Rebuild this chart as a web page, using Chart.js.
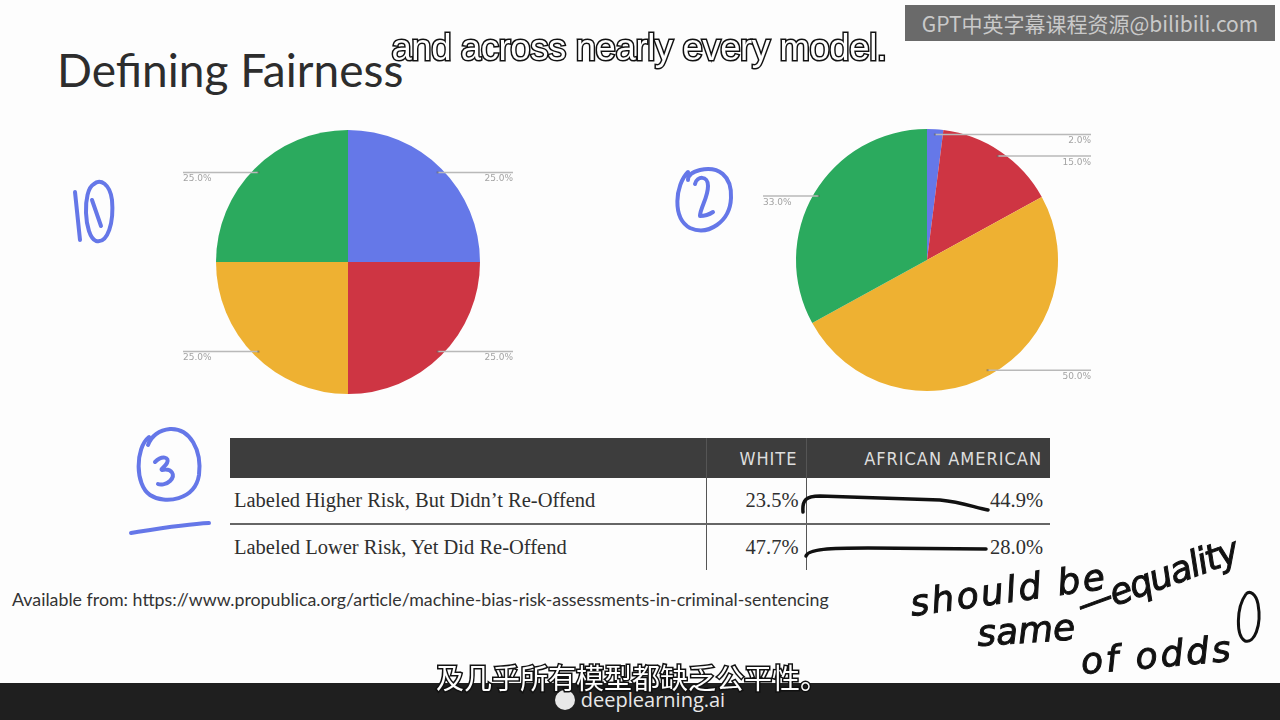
<!DOCTYPE html>
<html>
<head>
<meta charset="utf-8">
<script src="https://cdn.jsdelivr.net/npm/chart.js@4/dist/chart.umd.min.js"></script>
<style>
  html,body{margin:0;padding:0;}
  body{width:1280px;height:720px;position:relative;overflow:hidden;background:#fdfdfd;font-family:Lato,"Open Sans",sans-serif;}
  .abs{position:absolute;}
  #title{left:57px;top:42px;font-family:Lato,sans-serif;font-size:46px;color:#2d2d2d;line-height:56px;white-space:nowrap;}
  #sub1{left:0;width:1278px;top:27px;text-align:center;font-family:"Liberation Sans",Arial,sans-serif;font-size:36.5px;color:#fff;
        -webkit-text-stroke:3px #111;paint-order:stroke fill;white-space:nowrap;letter-spacing:-0.4px;}
  #wm{left:905px;top:5px;width:370px;height:36px;background:#6a6a6a;color:#c9c9c9;font-family:"Noto Sans CJK SC",sans-serif;font-size:21px;line-height:36px;text-align:center;white-space:nowrap;overflow:hidden;}
  canvas{position:absolute;}
  #tbl{left:230px;top:438px;width:820px;border-collapse:collapse;table-layout:fixed;}
  #tbl td,#tbl th{padding:0;}
  #tbl th{background:#3d3d3d;height:40px;color:#dedede;font-family:"Liberation Sans Narrow","DejaVu Sans Condensed",sans-serif;font-weight:normal;font-size:18px;letter-spacing:1px;text-align:right;padding-right:8px;}
  #tbl td{font-family:"Liberation Serif","DejaVu Serif",serif;font-size:20.5px;color:#2f2f2f;height:45px;}
  #tbl td.lab{padding-left:4px;text-align:left;}
  #tbl td.num{text-align:right;padding-right:7px;}
  #tbl .c2{border-left:1px solid #555;}
  #tbl .c3{border-left:1px solid #555;}
  #tbl tr.r1 td{border-bottom:2px solid #666;}
  #src{left:12px;top:588px;font-family:Lato,sans-serif;font-size:17.8px;color:#333;white-space:nowrap;}
  #bar{left:0;top:683px;width:1280px;height:37px;background:#1f1f1f;}
  #brand{left:0;width:1280px;top:686px;text-align:center;color:#e8e8e8;font-family:"Open Sans",sans-serif;font-size:20px;white-space:nowrap;}
  #brand span.logo{display:inline-block;width:20px;height:20px;border-radius:50%;background:#e8e8e8;vertical-align:-3px;margin-right:6px;}
  #sub2{left:0;width:1264px;top:657px;text-align:center;font-family:"Noto Sans CJK SC",sans-serif;font-size:28px;color:#fff;
        -webkit-text-stroke:3px #111;paint-order:stroke fill;white-space:nowrap;line-height:40px;}
  #ink{left:0;top:0;}
</style>
</head>
<body>
<div id="title" class="abs">Defining Fairness</div>
<div id="wm" class="abs">GPT中英字幕课程资源@bilibili.com</div>

<canvas id="pie1" width="360" height="300" style="left:170px;top:112px;width:360px;height:300px;"></canvas>
<canvas id="pie2" width="360" height="300" style="left:750px;top:110px;width:360px;height:300px;"></canvas>

<table id="tbl" class="abs">
  <colgroup><col style="width:476px"><col style="width:100px"><col style="width:244px"></colgroup>
  <tr><th class="c1"></th><th class="c2" id="h1"></th><th class="c3" id="h2"></th></tr>
  <tr class="r1"><td class="lab c1" id="l0"></td><td class="num c2" id="w0"></td><td class="num c3" id="a0"></td></tr>
  <tr class="r2"><td class="lab c1" id="l1"></td><td class="num c2" id="w1"></td><td class="num c3" id="a1"></td></tr>
</table>

<div id="src" class="abs">Available from: https://www.propublica.org/article/machine-bias-risk-assessments-in-criminal-sentencing</div>

<div id="bar" class="abs"></div>
<div id="brand" class="abs"><span class="logo"></span>deeplearning.ai</div>

<svg id="ink" class="abs" width="1280" height="720" viewBox="0 0 1280 720">
  <g fill="none" stroke="#6577e8" stroke-width="4" stroke-linecap="round" stroke-linejoin="round">
    <!-- circled 1 -->
    <path d="M75 192 L80 240"/>
    <path d="M94 184 C82 190 84 236 96 241 C108 244 114 222 112 200 C110 184 100 178 94 184"/>
    <path d="M92 200 L101 226"/>
    <!-- circled 2 -->
    <path d="M688 172 C675 185 672 218 690 228 C708 236 730 222 731 198 C732 175 718 166 700 170 C692 172 688 176 688 180"/>
    <path d="M695 184 C697 176 708 175 708 186 C708 198 700 208 700 216 C704 216 710 214 713 212"/>
    <!-- circled 3 -->
    <path d="M149 437 C135 448 135 485 150 495 C165 505 195 500 199 475 C202 450 190 428 170 429 C160 430 152 435 148 445"/>
    <path d="M155 462 C162 455 170 457 167 463 C165 467 160 469 162 470 C172 468 176 475 170 481 C166 485 160 485 158 484"/>
    <path d="M131 533 C150 530 185 524 209 523"/>
  </g>
  <g fill="none" stroke="#111" stroke-width="3.5" stroke-linecap="round">
    <path d="M803 512 C802 500 806 496 820 496 L940 500 C962 502 976 508 988 510"/>
    <path d="M806 556 C808 549 830 548 868 548 L986 549"/>
  </g>
  <g fill="#111" stroke="#111" stroke-width="1" font-family="DejaVu Sans, sans-serif" font-style="italic" font-size="36">
    <text x="912" y="616" transform="rotate(-8 912 616)" textLength="196">should be</text>
    <text x="978" y="646" transform="rotate(-4 978 646)">same</text>
    <text x="1082" y="618" transform="rotate(-20 1082 618)" textLength="170">—equality</text>
    <text x="1082" y="674" transform="rotate(-5 1082 674)" textLength="150">of odds</text>
  </g>
  <path d="M1246 594 C1236 608 1236 636 1245 641 C1254 644 1262 626 1258 604 C1256 594 1250 590 1246 594" fill="none" stroke="#111" stroke-width="3"/>
</svg>

<div id="sub1" class="abs">and across nearly every model.</div>
<div id="sub2" class="abs">及几乎所有模型都缺乏公平性。</div>

<script>
// ---- data ----
const sliceLabels = ["Slice A", "Slice B", "Slice C", "Slice D"];
const sliceColors = ["#6578e8", "#ce3543", "#eeb132", "#2baa5e"];
const pie1Values = [25, 25, 25, 25];
const pie2Values = [2, 15, 50, 33];

const tableHeaders = ["WHITE", "AFRICAN AMERICAN"];
const rowLabels = ["Labeled Higher Risk, But Didn\u2019t Re-Offend", "Labeled Lower Risk, Yet Did Re-Offend"];
const whiteValues = [23.5, 47.7];
const africanAmericanValues = [44.9, 28.0];

// ---- table ----
document.getElementById("h1").textContent = tableHeaders[0];
document.getElementById("h2").textContent = tableHeaders[1];
rowLabels.forEach((l, i) => {
  document.getElementById("l" + i).textContent = l;
  document.getElementById("w" + i).textContent = whiteValues[i].toFixed(1) + "%";
  document.getElementById("a" + i).textContent = africanAmericanValues[i].toFixed(1) + "%";
});

// ---- leader-line labels plugin ----
const leaderLabels = {
  id: "leaderLabels",
  afterDatasetsDraw(chart) {
    const ctx = chart.ctx;
    const meta = chart.getDatasetMeta(0);
    const data = chart.data.datasets[0].data;
    const total = data.reduce((a, b) => a + b, 0);
    ctx.save();
    meta.data.forEach((arc, i) => {
      const p = arc.getProps(["x", "y", "startAngle", "endAngle", "outerRadius"], true);
      const mid = (p.startAngle + p.endAngle) / 2;
      const r = p.outerRadius;
      const px = p.x + Math.cos(mid) * r * 0.96;
      const py = p.y + Math.sin(mid) * r * 0.96;
      const right = Math.cos(mid) >= 0;
      const ex = p.x + (right ? 1 : -1) * (r + 33);
      ctx.strokeStyle = "#b9b9b9";
      ctx.lineWidth = 1.5;
      ctx.beginPath();
      ctx.moveTo(px, py);
      ctx.lineTo(ex, py);
      ctx.stroke();
      ctx.fillStyle = "rgba(90,90,90,0.5)";
      ctx.fillRect(px - 1, py - 1, 2, 2);
      ctx.fillStyle = "#a3a3a3";
      ctx.font = "9px 'DejaVu Sans', sans-serif";
      ctx.textAlign = right ? "right" : "left";
      ctx.textBaseline = "top";
      ctx.fillText((data[i] / total * 100).toFixed(1) + "%", ex, py + 2);
    });
    ctx.restore();
  }
};

function makePie(id, values, pad) {
  new Chart(document.getElementById(id), {
    type: "pie",
    data: {
      labels: sliceLabels,
      datasets: [{ data: values, backgroundColor: sliceColors, borderWidth: 0 }]
    },
    options: {
      responsive: false,
      animation: false,
      layout: { padding: pad },
      plugins: { legend: { display: false }, tooltip: { enabled: false } }
    },
    plugins: [leaderLabels]
  });
}
makePie("pie1", pie1Values, { left: 46, right: 50, top: 18, bottom: 18 });
makePie("pie2", pie2Values, { left: 46, right: 52, top: 19, bottom: 19 });
</script>
</body>
</html>
